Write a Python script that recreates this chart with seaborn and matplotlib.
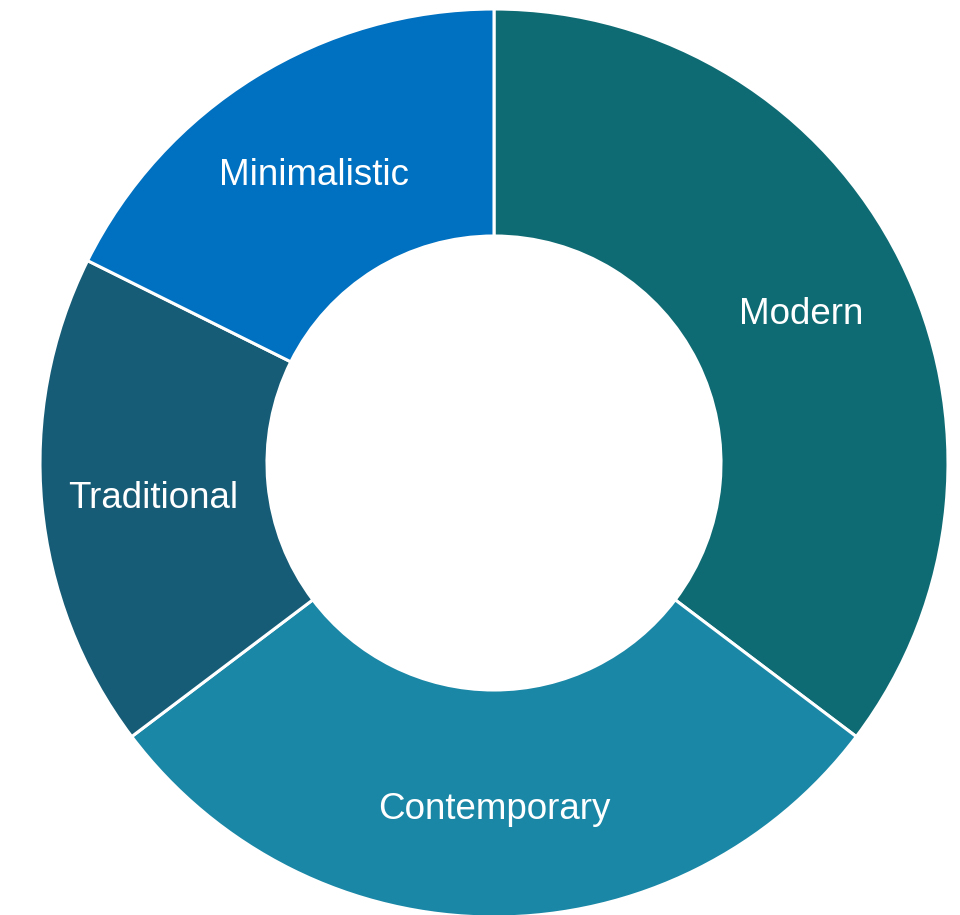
"""Donut chart of design style shares."""
import matplotlib
matplotlib.use("Agg")
import matplotlib.pyplot as plt
import seaborn as sns

STYLES = ["Modern", "Contemporary", "Traditional", "Minimalistic"]
COUNTS = [12, 10, 6, 6]
COLORS = ["#0f6b73", "#1a87a6", "#165c76", "#0070c0"]

sns.set_theme(style="white")
plt.rcParams["font.family"] = ["Liberation Sans", "DejaVu Sans"]

fig = plt.figure(figsize=(9.6, 9.15), dpi=100)
ax = fig.add_axes([40 / 960, -2 / 915, 908 / 960, 908 / 915])

wedges, texts = ax.pie(
    COUNTS,
    labels=STYLES,
    colors=COLORS,
    startangle=90,
    counterclock=False,
    radius=1.0,
    labeldistance=0.755,
    wedgeprops=dict(width=0.5, edgecolor="white", linewidth=2.2),
    textprops=dict(color="white", fontsize=26.5),
)
for t in texts:
    t.set_horizontalalignment("center")
    t.set_verticalalignment("center_baseline")

ax.set_xlim(-1, 1)
ax.set_ylim(-1, 1)
ax.set_aspect("equal")
ax.axis("off")

fig.savefig("out.png", dpi=100)
